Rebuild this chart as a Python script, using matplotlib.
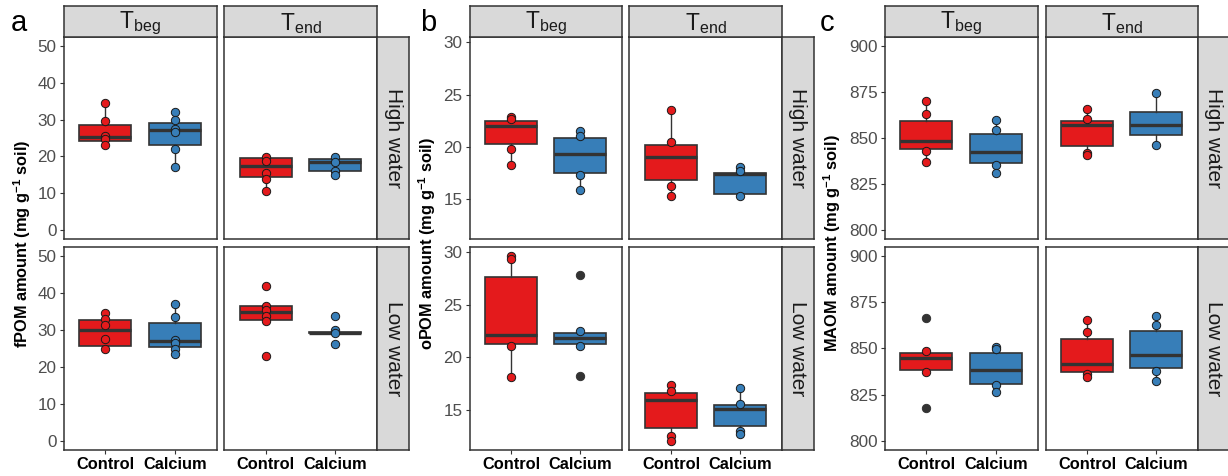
import matplotlib
matplotlib.use('Agg')
import matplotlib.pyplot as plt

plt.rcParams['font.family'] = ['Liberation Sans', 'DejaVu Sans']
plt.rcParams['mathtext.fontset'] = 'custom'
plt.rcParams['mathtext.rm'] = 'Liberation Sans'
plt.rcParams['mathtext.bf'] = 'Liberation Sans:bold'
plt.rcParams['mathtext.it'] = 'Liberation Sans:italic'

# ---------------- data ----------------
treatments = ['Control', 'Calcium']
times = [r'T$_\mathrm{beg}$', r'T$_\mathrm{end}$']
waters = ['High water', 'Low water']
# box order: High-Tbeg-Control, High-Tbeg-Calcium, High-Tend-Control, High-Tend-Calcium,
#            Low-Tbeg-Control,  Low-Tbeg-Calcium,  Low-Tend-Control,  Low-Tend-Calcium

# fPOM (panel a)
fpom_q1  = [24.1, 23.2, 14.3, 15.9, 25.7, 25.4, 32.8, 29.2]
fpom_med = [25.2, 27.3, 17.3, 18.5, 29.9, 27.0, 35.0, 29.3]
fpom_q3  = [28.5, 29.1, 19.5, 19.2, 32.7, 31.8, 36.4, 29.45]
fpom_lo  = [23.2, 17.0, 10.7, 15.0, 24.9, 23.5, 32.5, 29.2]
fpom_hi  = [34.4, 32.0, 19.8, 19.7, 34.6, 37.0, 36.6, 29.45]
fpom_pts = [[34.4, 29.5, 25.5, 24.6, 23.2],
            [32.0, 29.8, 27.5, 26.5, 22.0, 17.0],
            [19.8, 18.8, 15.5, 13.8, 10.7],
            [19.7, 18.5, 16.1, 15.0],
            [34.6, 33.1, 31.4, 27.7, 24.9],
            [37.0, 33.5, 27.4, 26.4, 25.0, 23.5],
            [42.0, 36.6, 35.5, 33.9, 32.5, 22.9],
            [33.8, 30.1, 29.2, 26.2]]
fpom_out = [[], [], [], [], [], [], [], []]

# oPOM (panel b)
opom_q1  = [20.32, 17.5, 16.8, 15.54, 21.26, 21.26, 13.32, 13.44]
opom_med = [22.03, 19.33, 19.08, 17.4, 22.12, 21.83, 16.0, 15.13]
opom_q3  = [22.44, 20.89, 20.19, 17.53, 27.65, 22.34, 16.65, 15.51]
opom_lo  = [18.3, 15.9, 15.32, 15.3, 18.18, 21.26, 12.08, 12.71]
opom_hi  = [22.9, 21.52, 23.54, 18.1, 29.62, 22.56, 17.4, 17.07]
opom_pts = [[22.9, 22.66, 19.8, 18.3],
            [21.52, 21.0, 17.3, 15.9],
            [23.54, 20.44, 16.27, 15.32],
            [18.1, 17.7, 15.3],
            [29.62, 29.36, 21.1, 18.18],
            [22.56, 21.1],
            [17.4, 16.84, 12.55, 12.08],
            [17.07, 15.57, 13.0, 12.71]]
opom_out = [[], [], [], [], [], [27.84, 18.27], [], []]

# MAOM (panel c)
maom_q1  = [844.2, 836.2, 845.5, 851.6, 838.4, 831.0, 837.3, 839.3]
maom_med = [848.4, 842.2, 856.9, 857.3, 844.9, 838.2, 841.7, 846.4]
maom_q3  = [859.45, 852.0, 859.1, 864.2, 847.5, 847.8, 854.9, 859.6]
maom_lo  = [836.9, 831.1, 840.9, 846.4, 837.0, 826.6, 834.8, 832.4]
maom_hi  = [870.0, 859.6, 865.8, 874.7, 848.4, 850.7, 865.2, 867.4]
maom_pts = [[870.0, 863.3, 842.7, 836.9],
            [859.6, 854.5, 835.5, 831.1],
            [865.8, 860.2, 841.8, 840.9],
            [874.7, 846.4],
            [848.4, 837.0],
            [850.7, 849.6, 830.3, 826.6],
            [865.2, 859.1, 836.2, 834.8],
            [867.4, 862.9, 837.9, 832.4]]
maom_out = [[], [], [], [], [866.5, 817.9], [], [], []]

fpom_ticks = [0, 10, 20, 30, 40, 50]
opom_ticks = [15, 20, 25, 30]
maom_ticks = [800, 825, 850, 875, 900]

colors = {'Control': '#E41A1C', 'Calcium': '#377EB8'}

# ---------------- layout ----------------
W, H = 1228, 476
fig = plt.figure(figsize=(W / 100, H / 100), dpi=100)


def px_axes(x0, y0, x1, y1):
    return fig.add_axes([x0 / W, 1 - y1 / H, (x1 - x0) / W, (y1 - y0) / H])


rows = [(37, 239), (247, 450)]
top_strip = (6, 37)
EDGE = '#333333'

groups = [
    dict(letter='a', lx=11, ylx=22, cols=[(63.5, 216.5), (224, 377)], strip=(377, 409),
         q1=fpom_q1, med=fpom_med, q3=fpom_q3, lo=fpom_lo, hi=fpom_hi, pts=fpom_pts, out=fpom_out,
         ticks=fpom_ticks, lim=(0, 50), ylabel=r'fPOM amount (mg g$^{\mathbf{-1}}$ soil)'),
    dict(letter='b', lx=420, ylx=427, cols=[(469.5, 622), (629.5, 782)], strip=(782, 814),
         q1=opom_q1, med=opom_med, q3=opom_q3, lo=opom_lo, hi=opom_hi, pts=opom_pts, out=opom_out,
         ticks=opom_ticks, lim=None, ylabel=r'oPOM amount (mg g$^{\mathbf{-1}}$ soil)'),
    dict(letter='c', lx=820, ylx=832, cols=[(884.5, 1037.5), (1045.5, 1198)], strip=(1198, 1230),
         q1=maom_q1, med=maom_med, q3=maom_q3, lo=maom_lo, hi=maom_hi, pts=maom_pts, out=maom_out,
         ticks=maom_ticks, lim=(800, 900), ylabel=r'MAOM amount (mg g$^{\mathbf{-1}}$ soil)'),
]

for g in groups:
    if g['lim'] is None:
        allv = [v for p in g['pts'] for v in p] + [v for p in g['out'] for v in p]
        lo, hi = min(allv), max(allv)
    else:
        lo, hi = g['lim']
    pad = (hi - lo) * 0.05
    ylim = (lo - pad, hi + pad)

    for ri, (y0, y1) in enumerate(rows):
        for ci, (x0, x1) in enumerate(g['cols']):
            ax = px_axes(x0, y0, x1, y1)
            idx0 = ri * 4 + ci * 2
            stats = []
            for k in range(2):
                i = idx0 + k
                stats.append(dict(med=g['med'][i], q1=g['q1'][i], q3=g['q3'][i],
                                  whislo=g['lo'][i], whishi=g['hi'][i], fliers=[]))
            bp = ax.bxp(stats, positions=[1, 2], widths=0.75, patch_artist=True,
                        showcaps=False, showfliers=False,
                        boxprops=dict(edgecolor=EDGE, linewidth=1.2),
                        medianprops=dict(color=EDGE, linewidth=2.4, solid_capstyle='butt'),
                        whiskerprops=dict(color=EDGE, linewidth=1.0))
            for k, patch in enumerate(bp['boxes']):
                patch.set_facecolor(colors[treatments[k]])
            for k in range(2):
                i = idx0 + k
                pts = g['pts'][i]
                ax.scatter([k + 1] * len(pts), pts, s=36, c=colors[treatments[k]],
                           edgecolors='#1A1A1A', linewidths=0.7, zorder=5)
                outs = g['out'][i]
                if outs:
                    ax.scatter([k + 1] * len(outs), outs, s=36, c='#333333',
                               edgecolors='#333333', linewidths=0.7, zorder=5)
            ax.set_xlim(0.4, 2.6)
            ax.set_ylim(*ylim)
            for s in ax.spines.values():
                s.set_color(EDGE)
                s.set_linewidth(1.1)
            ax.tick_params(colors=EDGE, length=3, width=0.8, labelsize=12.3,
                           labelcolor='#4D4D4D', pad=2)
            ax.set_yticks(g['ticks'])
            if ci == 0:
                ax.set_yticklabels([str(t) for t in g['ticks']])
            else:
                ax.tick_params(axis='y', left=False, labelleft=False)
            ax.set_xticks([1, 2])
            if ri == 1:
                ax.set_xticklabels(treatments, fontweight='bold', color='black', fontsize=11.8)
            else:
                ax.tick_params(axis='x', bottom=False, labelbottom=False)

            # top strip
            if ri == 0:
                sax = px_axes(x0, top_strip[0], x1, top_strip[1])
                sax.set_facecolor('#D9D9D9')
                sax.set_xticks([])
                sax.set_yticks([])
                for s in sax.spines.values():
                    s.set_color(EDGE)
                    s.set_linewidth(1.1)
                sax.text(0.5, 0.45, times[ci], ha='center', va='center', fontsize=16.5,
                         color='#1A1A1A', transform=sax.transAxes)
        # right strip
        rax = px_axes(g['strip'][0], y0, g['strip'][1], y1)
        rax.set_facecolor('#D9D9D9')
        rax.set_xticks([])
        rax.set_yticks([])
        for s in rax.spines.values():
            s.set_color(EDGE)
            s.set_linewidth(1.1)
        rax.text(0.5, 0.5, waters[ri], ha='center', va='center', rotation=-90,
                 fontsize=15, color='#1A1A1A', transform=rax.transAxes)

    fig.text(g['lx'] / W, 1 - 31 / H, g['letter'], fontsize=21, ha='left', va='baseline')
    fig.text(g['ylx'] / W, 1 - 243.5 / H, g['ylabel'], rotation=90, ha='center', va='center',
             fontsize=11.8, fontweight='bold', color='black')

fig.savefig('out.png', dpi=100)
